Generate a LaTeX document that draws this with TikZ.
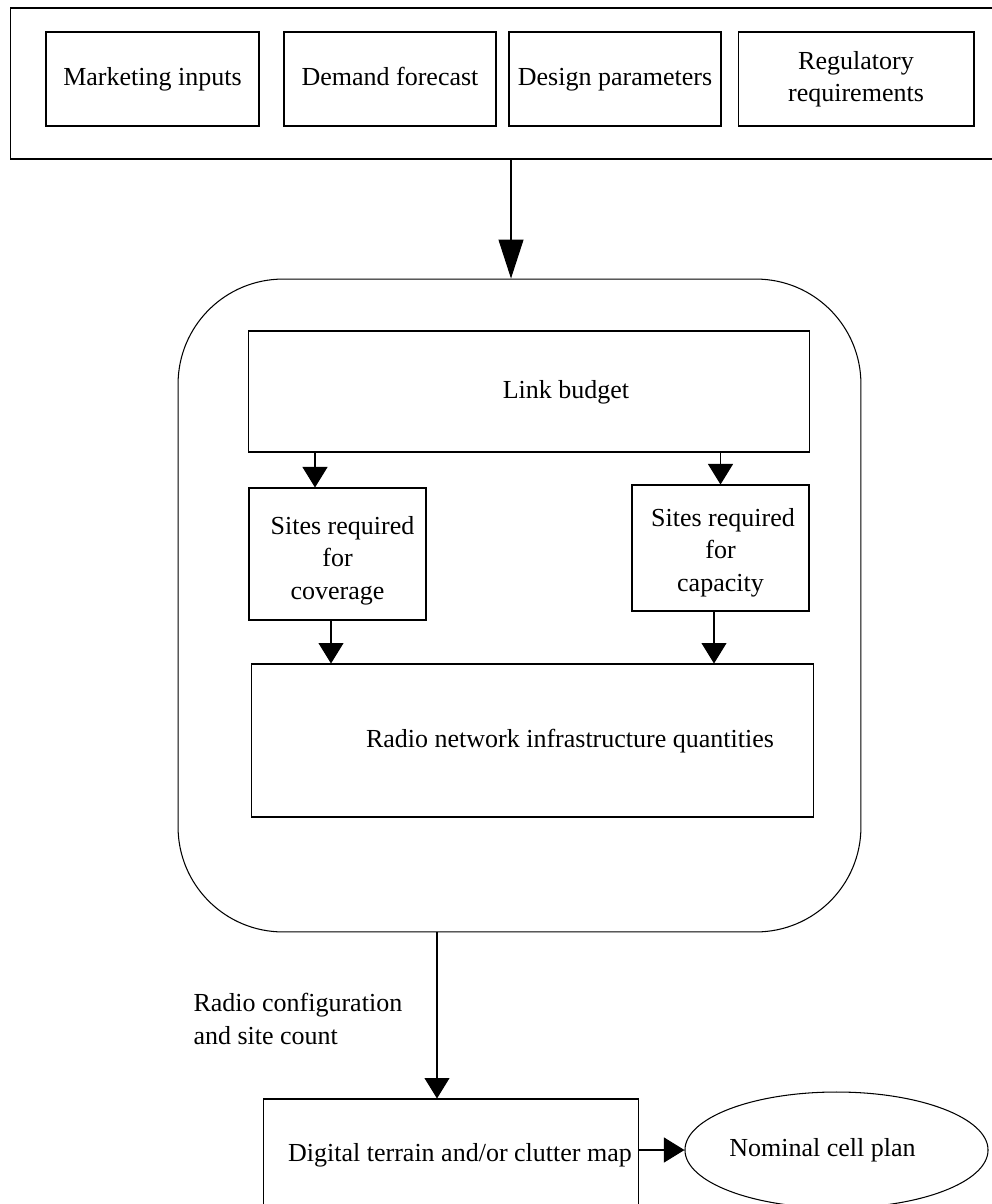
\documentclass[tikz,border=0pt]{standalone}
\usepackage{fontspec}
\setmainfont{Liberation Serif}
\usepackage{tikz}
\usetikzlibrary{arrows.meta, shapes.geometric, calc}

\begin{document}
\begin{tikzpicture}[
  x=0.02cm, y=-0.02cm,
  line width=0.6pt,
  every node/.style={font=\fontsize{14.8}{18.5}\selectfont},
  inbox/.style={rectangle, draw=black, minimum height=1.88cm, inner sep=0cm, align=center},
  stepbox/.style={rectangle, draw=black, inner sep=0cm, align=center},
  pool/.style={rectangle, draw=black, rounded corners=2.1cm, minimum width=13.66cm, minimum height=13.06cm},
  result/.style={ellipse, draw=black, minimum width=6.02cm, minimum height=2.32cm, inner sep=0cm},
  big/.style={-{Triangle[length=0.78cm,width=0.5cm]}},
  >/.tip={Triangle[length=0.41cm,width=0.5cm]}
]
\useasboundingbox (0,0) rectangle (991,1204);

% inputs
\node (top) at (502,83.5) [rectangle, draw=black, minimum width=19.66cm, minimum height=3.02cm] {};
\node (mkt) at (152.5,79) [inbox, minimum width=4.26cm] {\strut Marketing inputs};
\node (dem) at (390,79) [inbox, minimum width=4.24cm] {\strut Demand forecast};
\node (des) at (615,79) [inbox, minimum width=4.24cm] {\strut Design parameters};
\node (reg) at (856,79) [inbox, minimum width=4.72cm] {Regulatory\\requirements};

% dimensioning
\node (rnd) at (519.5,605.5) [pool] {};
\node (lb) at (529,391.5) [stepbox, minimum width=11.24cm, minimum height=2.42cm] {\hspace*{1.48cm}\strut Link budget};
\node (cov) at (337.5,554) [stepbox, minimum width=3.54cm, minimum height=2.64cm] {\rule{0pt}{0.62cm}\hspace*{0.2cm}Sites required\\for\\coverage};
\node (cap) at (720.5,548) [stepbox, minimum width=3.54cm, minimum height=2.52cm] {\rule{0pt}{0.54cm}\hspace*{0.1cm}Sites required\\for\\capacity};
\node (rad) at (532.5,740.5) [stepbox, minimum width=11.26cm, minimum height=3.06cm] {\hspace*{1.5cm}\strut Radio network infrastructure quantities};

% output
\node (dig) at (451,1155) [stepbox, minimum width=7.52cm, minimum height=2.24cm] {\hspace*{0.36cm}\strut Digital terrain and/or clutter map};
\node (ell) at (836.5,1150) [result] {\strut Nominal cell plan\hspace*{0.56cm}};
\node (cfg) at (193,1019) [anchor=west, align=left, inner sep=0cm] {Radio configuration\\and site count};

\draw [big] ($(top.south)+(9,0)$) -- ($(rnd.north)+(-8.5,0)$);
\draw [->] ($(lb.south)+(-214,0)$) -- ($(cov.north)+(-22.5,0)$);
\draw [->] (lb.south -| cap.north) -- (cap.north);
\draw [->] ($(cov.south)+(-6.5,0)$) -- ($(cov.south |- rad.north)+(-6.5,0)$);
\draw [->] ($(cap.south)+(-6.5,0)$) -- ($(cap.south |- rad.north)+(-6.5,0)$);
\draw [->] ($(rnd.south -| dig.north)+(-14,0)$) -- ($(dig.north)+(-14,0)$);
\draw [->] ($(dig.east)+(0,-5)$) -- (ell.west);

\end{tikzpicture}
\end{document}
